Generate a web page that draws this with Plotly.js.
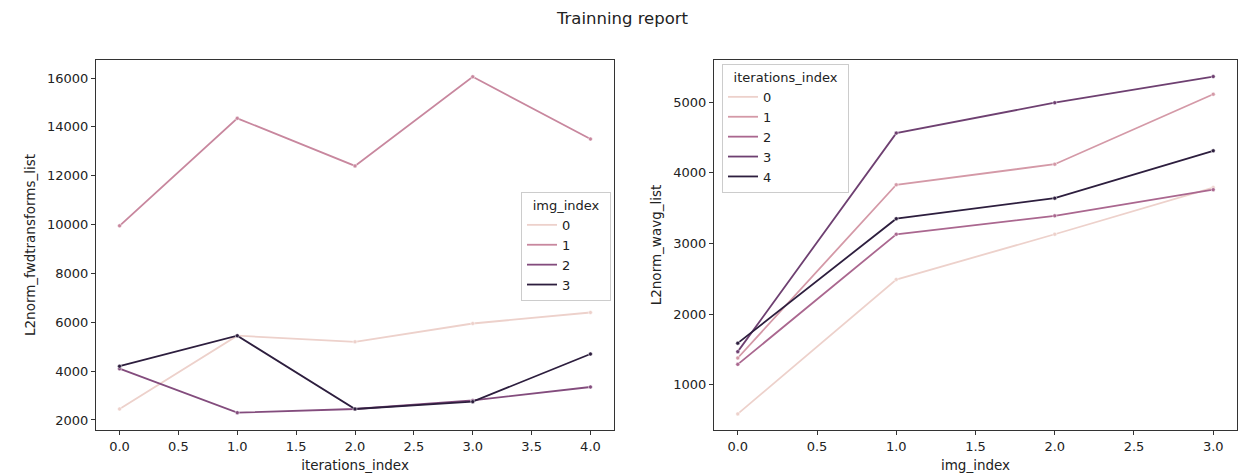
<!DOCTYPE html>
<html>
<head>
<meta charset="utf-8">
<script src="https://cdn.plot.ly/plotly-3.0.1.min.js"></script>
<style>html,body{margin:0;padding:0;background:#fff;}#chart{width:1245px;height:474px;}</style>
</head>
<body>
<div id="chart"></div>
<script>
// ---- data ----
const iterationsIndex = [0, 1, 2, 3, 4];
const imgLevels = [0, 1, 2, 3];
const fwd_img0 = [2450, 5450, 5200, 5950, 6400];
const fwd_img1 = [9950, 14350, 12400, 16050, 13500];
const fwd_img2 = [4100, 2300, 2450, 2800, 3350];
const fwd_img3 = [4200, 5450, 2450, 2750, 4700];

const imgIndex = [0, 1, 2, 3];
const iterLevels = [0, 1, 2, 3, 4];
const wavg_iter0 = [590, 2490, 3130, 3790];
const wavg_iter1 = [1380, 3830, 4120, 5110];
const wavg_iter2 = [1290, 3130, 3390, 3760];
const wavg_iter3 = [1470, 4560, 4990, 5360];
const wavg_iter4 = [1590, 3350, 3640, 4310];

// ---- seaborn default sequential cubehelix colormap ----
function cubehelix(x) {
  const start = 0, rot = 0.4, gamma = 1.0, hue = 0.8;
  const xg = Math.pow(x, gamma);
  const a = hue * xg * (1 - xg) / 2;
  const phi = 2 * Math.PI * (start / 3 + rot * x);
  const f = (p0, p1) => Math.min(1, Math.max(0, xg + a * (p0 * Math.cos(phi) + p1 * Math.sin(phi))));
  const r = f(-0.14861, 1.78277), g = f(-0.29227, -0.90649), b = f(1.97294, 0.0);
  return 'rgb(' + Math.round(r * 255) + ',' + Math.round(g * 255) + ',' + Math.round(b * 255) + ')';
}
function levelColor(i, n) {
  const t = n > 1 ? i / (n - 1) : 0;
  return cubehelix(0.85 + (0.15 - 0.85) * t);
}

const fwdSeries = [fwd_img0, fwd_img1, fwd_img2, fwd_img3];
const wavgSeries = [wavg_iter0, wavg_iter1, wavg_iter2, wavg_iter3, wavg_iter4];
const LW = 1.8;

const traces = [];
fwdSeries.forEach((ys, i) => {
  const c = levelColor(i, imgLevels.length);
  traces.push({x: iterationsIndex, y: ys, xaxis: 'x', yaxis: 'y', mode: 'lines+markers',
    line: {color: c, width: LW}, marker: {color: c, size: 4, line: {color: '#fff', width: 0.5}},
    showlegend: false, hoverinfo: 'x+y'});
});
fwdSeries.forEach((ys, i) => {
  const c = levelColor(i, imgLevels.length);
  traces.push({x: [null], y: [null], xaxis: 'x', yaxis: 'y', mode: 'lines', name: String(imgLevels[i]),
    line: {color: c, width: LW}, legend: 'legend'});
});
wavgSeries.forEach((ys, i) => {
  const c = levelColor(i, iterLevels.length);
  traces.push({x: imgIndex, y: ys, xaxis: 'x2', yaxis: 'y2', mode: 'lines+markers',
    line: {color: c, width: LW}, marker: {color: c, size: 4, line: {color: '#fff', width: 0.5}},
    showlegend: false, hoverinfo: 'x+y'});
});
wavgSeries.forEach((ys, i) => {
  const c = levelColor(i, iterLevels.length);
  traces.push({x: [null], y: [null], xaxis: 'x2', yaxis: 'y2', mode: 'lines', name: String(iterLevels[i]),
    line: {color: c, width: LW}, legend: 'legend2'});
});

const W = 1245, H = 474;
const FONT = 'DejaVu Sans';
const axisCommon = {
  showline: true, mirror: true, linecolor: '#333', linewidth: 1,
  ticks: 'outside', ticklen: 4, tickcolor: '#333', tickwidth: 1,
  showgrid: false, zeroline: false,
  tickfont: {family: FONT, size: 13, color: '#222'},
  automargin: false
};
const titleFont = {family: FONT, size: 13.5, color: '#222'};
const legendCommon = {
  bgcolor: 'rgba(255,255,255,0.8)', bordercolor: '#cccccc', borderwidth: 1,
  font: {family: FONT, size: 13, color: '#222'},
  xref: 'paper', yref: 'paper', tracegroupgap: 0, itemwidth: 30
};
const NB = '\u00a0';

const layout = {
  width: W, height: H,
  margin: {l: 0, r: 0, t: 0, b: 0},
  paper_bgcolor: '#fff', plot_bgcolor: '#fff',
  showlegend: true,
  title: {text: 'Trainning report', x: 0.5, xanchor: 'center', y: 1 - 18 / H, yanchor: 'middle',
    font: {family: FONT, size: 16.5, color: '#222'}},
  xaxis: Object.assign({}, axisCommon, {domain: [96 / W, 614 / W], anchor: 'y', range: [-0.2, 4.2], dtick: 0.5, tick0: 0, tickformat: '.1f',
    title: {text: 'iterations_index', font: titleFont, standoff: 7}}),
  yaxis: Object.assign({}, axisCommon, {domain: [(H - 430) / H, (H - 60) / H], anchor: 'x', range: [1590, 16737], dtick: 2000, tick0: 0, tickformat: 'd',
    title: {text: 'L2norm_fwdtransforms_list', font: titleFont, standoff: 8}}),
  xaxis2: Object.assign({}, axisCommon, {domain: [714 / W, 1237 / W], anchor: 'y2', range: [-0.15, 3.15], dtick: 0.5, tick0: 0, tickformat: '.1f',
    title: {text: 'img_index', font: titleFont, standoff: 7}}),
  yaxis2: Object.assign({}, axisCommon, {domain: [(H - 430) / H, (H - 60) / H], anchor: 'x2', range: [362, 5594], dtick: 1000, tick0: 0, tickformat: 'd',
    title: {text: 'L2norm_wavg_list', font: titleFont, standoff: 8}}),
  legend: Object.assign({}, legendCommon, {x: 611 / W, xanchor: 'right', y: (H - 192) / H, yanchor: 'top',
    title: {text: NB + NB + 'img_index' + NB + NB, side: 'top center', font: {family: FONT, size: 13, color: '#222'}}}),
  legend2: Object.assign({}, legendCommon, {x: 722 / W, xanchor: 'left', y: (H - 64) / H, yanchor: 'top',
    title: {text: NB + NB + 'iterations_index' + NB + NB, side: 'top center', font: {family: FONT, size: 13, color: '#222'}}})
};

Plotly.newPlot('chart', traces, layout, {displayModeBar: false, staticPlot: true});
</script>
</body>
</html>
